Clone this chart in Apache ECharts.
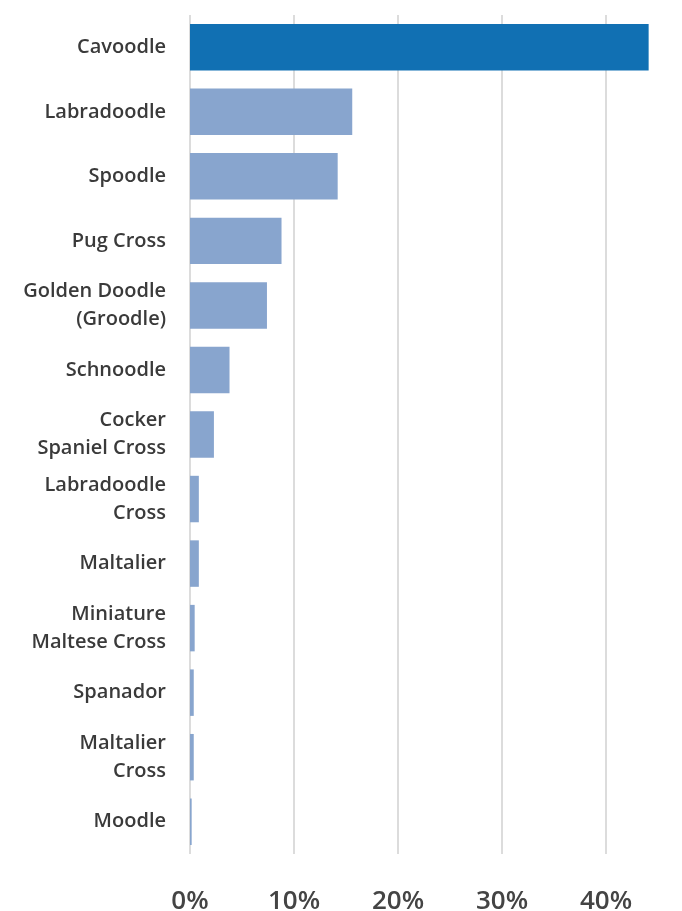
<!DOCTYPE html>
<html>
<head>
<meta charset="utf-8">
<style>
  html, body { margin: 0; padding: 0; background: #fff; }
  #chart { width: 682px; height: 911px; }
</style>
<script src="https://cdn.jsdelivr.net/npm/echarts@6/dist/echarts.min.js"></script>
</head>
<body>
<div id="chart"></div>
<script>
// breeds, top to bottom
var breeds = ['Cavoodle', 'Labradoodle', 'Spoodle', 'Pug Cross', 'Golden Doodle\n(Groodle)',
  'Schnoodle', 'Cocker\nSpaniel Cross', 'Labradoodle\nCross', 'Maltalier',
  'Miniature\nMaltese Cross', 'Spanador', 'Maltalier\nCross', 'Moodle'];
// share of registrations, %
var share = [44.1, 15.6, 14.2, 8.8, 7.4, 3.8, 2.3, 0.85, 0.85, 0.45, 0.36, 0.36, 0.16];
var xTicks = [0, 10, 20, 30, 40];

var chart = echarts.init(document.getElementById('chart'));

var option = {
  animation: false,
  grid: { left: 190, right: 24, top: 15, bottom: 57, outerBoundsMode: 'none' },
  xAxis: {
    type: 'value',
    min: xTicks[0],
    max: 45,
    interval: xTicks[1] - xTicks[0],
    axisLine: { show: false },
    axisTick: { show: false },
    splitLine: { show: true, showMaxLine: false, lineStyle: { color: '#dcdcdc', width: 2 } },
    axisLabel: {
      showMaxLabel: false,
      margin: 35,
      fontSize: 26,
      fontWeight: 600,
      color: '#444',
      fontFamily: 'Open Sans',
      formatter: '{value}%'
    }
  },
  yAxis: {
    type: 'category',
    inverse: true,
    data: breeds,
    axisLine: { show: false },
    axisTick: { show: false },
    axisLabel: {
      margin: 24,
      fontSize: 20,
      lineHeight: 28,
      fontWeight: 600,
      color: '#3a3a3a',
      fontFamily: 'Open Sans',
      padding: [4, 0, 0, 0]
    }
  },
  series: [{
    type: 'bar',
    barCategoryGap: '28%',
    data: share.map(function (v, i) {
      return { value: v, itemStyle: { color: i === 0 ? '#1170b3' : '#88a5ce' } };
    })
  }]
};

chart.setOption(option);
</script>
</body>
</html>
